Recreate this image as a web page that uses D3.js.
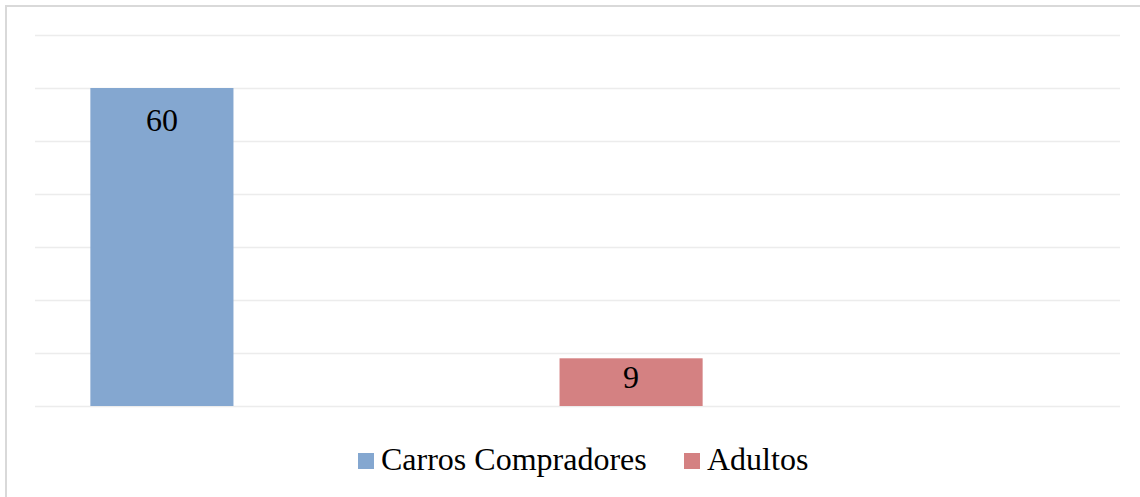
<!DOCTYPE html>
<html>
<head>
<meta charset="utf-8">
<script src="https://cdn.jsdelivr.net/npm/d3@7"></script>
<style>
  html, body { margin: 0; padding: 0; background: #fff; overflow: hidden; }
  svg { display: block; }
</style>
</head>
<body>
<svg id="chart" width="1140" height="497"></svg>
<script>
const categories = ["Carros Compradores", "Adultos"];
const values = [60, 9];
const colors = ["#84A7D0", "#D48182"];
const yTicks = [0, 10, 20, 30, 40, 50, 60, 70];

const svg = d3.select("#chart");
const W = 1140, H = 497;
const plotLeft = 35, plotRight = 1120, plotTop = 35, plotBottom = 406;
const font = "'Liberation Serif', 'Times New Roman', serif";

// outer border (extends beyond the window on right and bottom)
svg.append("rect")
  .attr("x", 6).attr("y", 6).attr("width", W + 10).attr("height", H + 10)
  .attr("fill", "#fff").attr("stroke", "#d9d9d9").attr("stroke-width", 2);

const y = d3.scaleLinear().domain([0, 70]).range([plotBottom, plotTop]);
const x = d3.scaleBand().domain(categories)
  .range([plotLeft, plotLeft + 723]).paddingInner(0.695).paddingOuter(0.118);

// gridlines
svg.append("g").selectAll("line").data(yTicks).join("line")
  .attr("x1", plotLeft).attr("x2", plotRight)
  .attr("y1", d => Math.round(y(d)) + 0.5).attr("y2", d => Math.round(y(d)) + 0.5)
  .attr("stroke", "#ececec").attr("stroke-width", 1.3);

// bars
svg.append("g").selectAll("rect").data(categories).join("rect")
  .attr("x", d => x(d))
  .attr("y", (d, i) => y(values[i]))
  .attr("width", x.bandwidth())
  .attr("height", (d, i) => y(0) - y(values[i]))
  .attr("fill", (d, i) => colors[i]);

// labels
svg.append("g").selectAll("text").data(categories).join("text")
  .attr("x", d => x(d) + x.bandwidth() / 2)
  .attr("y", (d, i) => {
    const h = y(0) - y(values[i]);
    return y(values[i]) + Math.min(43, h / 2 + 6);
  })
  .attr("text-anchor", "middle")
  .style("font-family", font).style("font-size", "32px")
  .attr("fill", "#000")
  .text((d, i) => values[i]);

// legend
const legend = svg.append("g");
const lx = [358, 684];
categories.forEach((c, i) => {
  legend.append("rect").attr("x", lx[i]).attr("y", 453)
    .attr("width", 16).attr("height", 16).attr("fill", colors[i]);
  legend.append("text").attr("x", lx[i] + 23).attr("y", 470)
    .style("font-family", font).style("font-size", "32px").attr("fill", "#000")
    .text(c);
});
</script>
</body>
</html>
